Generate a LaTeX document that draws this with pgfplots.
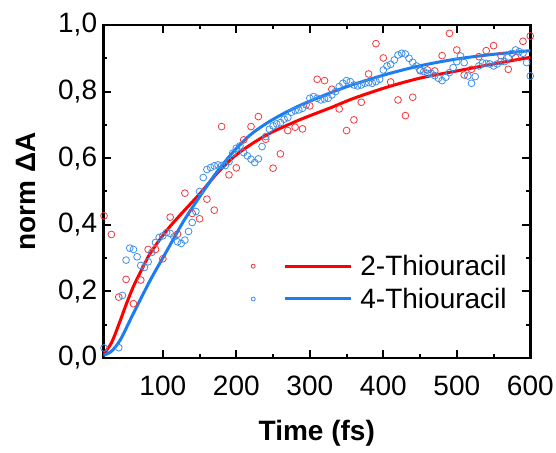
\documentclass[border=0pt]{standalone}
\usepackage{fontspec}
\setmainfont{Liberation Sans}
\usepackage{pgfplots}
\pgfplotsset{compat=1.18}
\definecolor{redmk}{HTML}{F2383C}
\definecolor{bluemk}{HTML}{3D8FEA}
\definecolor{redln}{HTML}{FF0000}
\definecolor{blueln}{HTML}{1A7DF2}

% 2-Thiouracil, measured points
\pgfplotstableread{
t v
20 0.427
30 0.371
40 0.183
50 0.236
60 0.163
70 0.234
80 0.326
90 0.326
100 0.298
110 0.423
120 0.372
130 0.495
140 0.434
150 0.418
160 0.477
170 0.444
180 0.695
190 0.550
200 0.571
210 0.655
220 0.695
230 0.725
240 0.657
250 0.570
260 0.613
270 0.683
280 0.693
290 0.688
300 0.757
310 0.837
320 0.833
330 0.807
340 0.748
350 0.683
360 0.715
370 0.768
380 0.853
390 0.944
400 0.901
410 0.829
420 0.775
430 0.728
440 0.783
450 0.863
460 0.865
470 0.862
480 0.908
490 0.975
500 0.925
510 0.850
520 0.867
530 0.905
540 0.923
550 0.938
560 0.908
570 0.867
580 0.902
590 0.951
600 0.967
}\redpts

% 4-Thiouracil, measured points
\pgfplotstableread{
t v
20 0.030
40 0.031
45 0.188
50 0.294
55 0.330
60 0.326
65 0.304
70 0.278
75 0.272
80 0.289
85 0.317
90 0.347
95 0.362
100 0.367
105 0.377
110 0.374
115 0.364
120 0.349
125 0.344
130 0.354
135 0.380
140 0.407
145 0.440
150 0.500
155 0.542
160 0.566
165 0.572
170 0.577
175 0.580
180 0.578
185 0.578
190 0.590
195 0.615
200 0.630
205 0.637
210 0.617
215 0.607
220 0.597
225 0.587
230 0.598
235 0.635
240 0.665
245 0.687
250 0.697
255 0.703
260 0.707
265 0.717
270 0.722
275 0.738
280 0.743
285 0.745
290 0.750
295 0.760
300 0.780
305 0.785
310 0.780
315 0.775
320 0.778
325 0.780
330 0.790
335 0.800
340 0.815
345 0.825
350 0.833
355 0.830
360 0.820
365 0.817
370 0.820
375 0.825
380 0.827
385 0.825
390 0.830
395 0.837
400 0.865
405 0.877
410 0.882
415 0.895
420 0.910
425 0.915
430 0.913
435 0.900
440 0.888
445 0.877
450 0.865
455 0.860
460 0.855
465 0.855
470 0.848
475 0.840
480 0.833
485 0.843
490 0.857
495 0.872
500 0.890
505 0.907
510 0.887
515 0.847
520 0.825
525 0.845
530 0.877
535 0.886
540 0.885
545 0.883
550 0.877
555 0.883
560 0.890
565 0.890
570 0.903
575 0.915
580 0.925
585 0.920
590 0.915
595 0.887
600 0.847
}\bluepts

% fitted curves
\pgfplotstableread{
t v
19 0.010
30 0.045
40 0.100
50 0.160
60 0.215
70 0.260
83 0.315
106 0.385
128 0.440
151 0.495
174 0.555
197 0.605
219 0.640
242 0.671
265 0.695
288 0.717
310 0.736
330 0.753
360 0.780
406 0.814
451 0.841
500 0.862
550 0.883
600 0.903
}\redfit

\pgfplotstableread{
t v
19 0.008
30 0.020
42 0.054
60 0.134
83 0.234
106 0.324
128 0.410
150 0.484
174 0.560
197 0.622
219 0.670
242 0.706
265 0.735
288 0.760
310 0.780
330 0.798
360 0.822
406 0.853
451 0.878
500 0.898
550 0.912
600 0.923
}\bluefit

\begin{document}
\begin{tikzpicture}
\useasboundingbox (-103.3pt,-94pt) rectangle (452.7pt,358pt);
\begin{axis}[
  scale only axis,
  width=427pt, height=333pt,
  xmin=19, xmax=600,
  ymin=0, ymax=1,
  xtick={100,200,300,400,500,600},
  ytick={0,0.2,0.4,0.6,0.8,1.0},
  minor x tick num=1,
  minor y tick num=1,
  tick align=inside,
  major tick length=8pt,
  minor tick length=4pt,
  every tick/.style={black, line width=2pt},
  axis line style={line width=2.5pt},
  font=\fontsize{28}{32}\selectfont,
  /pgf/number format/assume math mode=true,
  xticklabel style={inner sep=0pt, yshift=-18pt},
  yticklabel style={inner sep=0pt, xshift=-6pt,
    /pgf/number format/.cd, fixed, fixed zerofill, precision=1, use comma},
  xlabel={\bfseries Time (fs)},
  ylabel={\bfseries norm ΔA},
  xlabel style={at={(axis description cs:0.5,-0.226)}, anchor=center},
  ylabel style={at={(axis description cs:-0.182,0.5)}, anchor=center},
  legend style={at={(rel axis cs:0.345,0.315)}, anchor=north west,
    draw=none, fill=none, inner sep=0pt, row sep=7pt,
    font=\fontsize{28}{32}\selectfont},
  legend cell align=left,
  clip=true,
]
\addplot[only marks, mark=o, mark size=3.4pt, redmk, mark options={line width=0.8pt}, forget plot] table[x=t,y=v] {\redpts};
\addplot[only marks, mark=o, mark size=3.4pt, bluemk, mark options={line width=0.8pt}, forget plot] table[x=t,y=v] {\bluepts};
\addplot[redln, line width=3pt, smooth, forget plot] table[x=t,y=v] {\redfit};
\addplot[blueln, line width=3pt, smooth, forget plot] table[x=t,y=v] {\bluefit};
\addlegendimage{legend image code/.code={
  \draw[redmk, line width=0.8pt] (0pt,0pt) circle (2pt);
  \draw[redln, line width=3pt] (32pt,0pt) -- (98pt,0pt);
  \path (105pt,0pt);}}
\addlegendentry{2-Thiouracil}
\addlegendimage{legend image code/.code={
  \draw[bluemk, line width=0.8pt] (0pt,0pt) circle (2pt);
  \draw[blueln, line width=3pt] (32pt,0pt) -- (98pt,0pt);
  \path (105pt,0pt);}}
\addlegendentry{4-Thiouracil}
\end{axis}
\end{tikzpicture}
\end{document}
